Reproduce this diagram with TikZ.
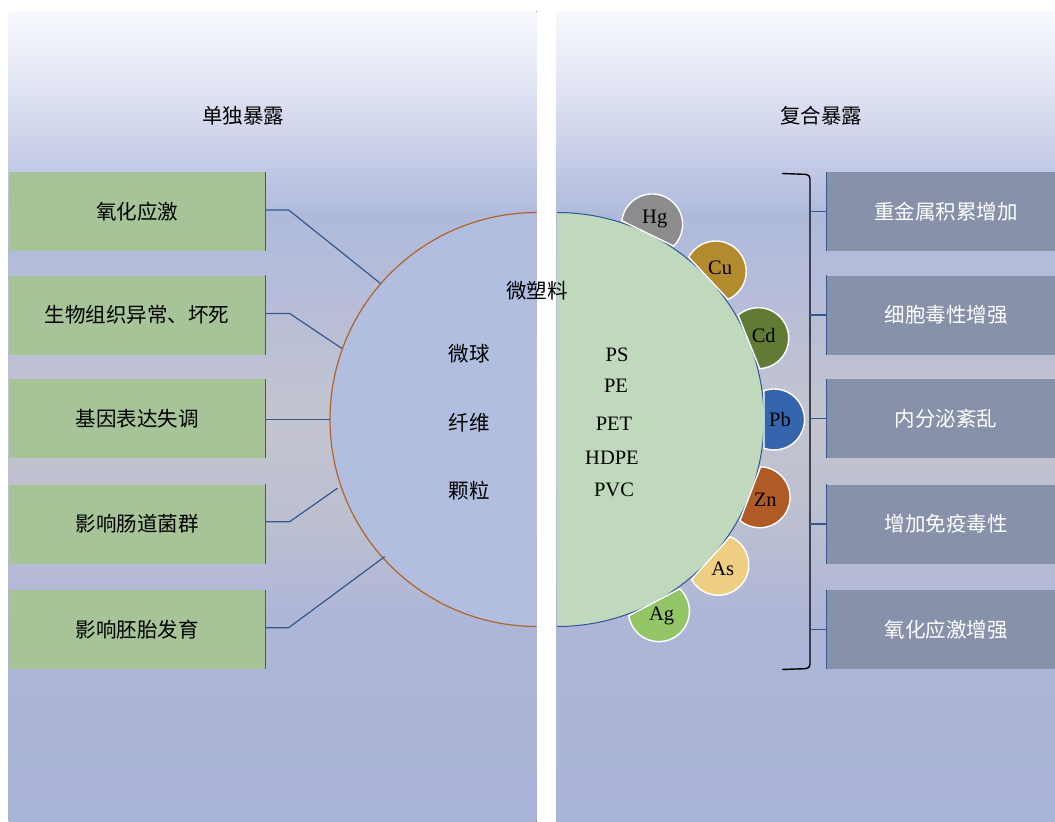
\documentclass[tikz,border=0pt]{standalone}
\usepackage{fontspec}
\setmainfont{Liberation Serif}
\newfontfamily\cjk{Noto Sans CJK SC}
\usetikzlibrary{calc}

\definecolor{bgA}{HTML}{F6F8FC}
\definecolor{bgB}{HTML}{E9ECF6}
\definecolor{bgC}{HTML}{D4D9EE}
\definecolor{bgD}{HTML}{C0C7E4}
\definecolor{bgE}{HTML}{AFBADB}
\definecolor{bgF}{HTML}{B7BDD8}
\definecolor{bgG}{HTML}{C3C4CF}
\definecolor{bgH}{HTML}{BCBFD1}
\definecolor{bgI}{HTML}{AEB6D8}
\definecolor{bgJ}{HTML}{AAB4D8}
\definecolor{lgreen}{HTML}{A6C498}
\definecolor{rgray}{HTML}{8791AA}
\definecolor{circL}{HTML}{B2BEE0}
\definecolor{circLline}{HTML}{B06428}
\definecolor{circR}{HTML}{C0D9BC}
\definecolor{circRline}{HTML}{2F5597}
\definecolor{linec}{HTML}{34588C}
\definecolor{hgc}{HTML}{8C8C8C}
\definecolor{cuc}{HTML}{B38B2E}
\definecolor{cdc}{HTML}{617A34}
\definecolor{pbc}{HTML}{3566AD}
\definecolor{znc}{HTML}{B05B26}
\definecolor{asc}{HTML}{EECE82}
\definecolor{agc}{HTML}{93C466}

\pgfdeclareverticalshading{panelshade}{100bp}{color(0bp)=(bgJ); color(25bp)=(bgJ); color(37.45bp)=(bgI); color(43.62bp)=(bgH); color(49.78bp)=(bgG); color(57.18bp)=(bgF); color(62.42bp)=(bgE); color(64.89bp)=(bgD); color(68.28bp)=(bgC); color(71.98bp)=(bgB); color(75bp)=(bgA); color(100bp)=(bgA)}

\tikzset{
  cjktext/.style={font=\cjk\fontsize{20.5}{24}\selectfont},
  lattext/.style={font=\fontsize{20.5}{24}\selectfont},
  lbox/.style={cjktext, fill=lgreen, minimum width=257pt, minimum height=79pt, inner sep=0pt, text=black},
  rbox/.style={cjktext, fill=rgray, minimum width=238pt, minimum height=79pt, inner sep=0pt, text=white},
  edgeline/.style={draw=linec, line width=1.3pt},
  conn/.style={draw=linec, line width=1.2pt},
  metal/.style={draw=white, line width=1.4pt},
  mlabel/.style={lattext, inner sep=0pt},
  bracketline/.style={draw=black, line width=1.4pt, rounded corners=4pt},
}

\begin{document}
\begin{tikzpicture}[x=1pt,y=-1pt]
\useasboundingbox (0,0) rectangle (1055,822);
\clip (0,0) rectangle (1055,822);
\fill[white] (0,0) rectangle (1055,822);

% panels
\fill[shading=panelshade] (8.5,11) rectangle (536.5,822);
\fill[shading=panelshade] (556,11) rectangle (1055,822);

% left big circle (clipped to left panel)
\coordinate (CL) at (537,419.5);
\begin{scope}
  \clip (8.5,11) rectangle (536.5,822);
  \filldraw[fill=circL, draw=circLline, line width=1.2pt] (CL) circle[radius=207pt];
\end{scope}

% right half circle
\coordinate (C) at (557,419.5);
\fill[circR] (557,212.5) arc[start angle=90, end angle=-90, radius=207pt] -- cycle;
\draw[circRline, line width=1pt] (557,212.5) arc[start angle=90, end angle=-90, radius=207pt];

% metals
\foreach \lab/\ang/\col in {Hg/64/hgc, Cu/43/cuc, Cd/22/cdc, Pb/0/pbc, Zn/-21/znc, As/-42/asc, Ag/-62/agc}{
  \path (C) ++(\ang:217pt) coordinate (o\lab);
  \filldraw[metal, fill=\col] (o\lab) ++(\ang+109.1:30.5pt) arc[start angle=\ang+109.1, delta angle=-218.2, radius=30.5pt] -- cycle;
  \node[mlabel] (m\lab) at ($(C)+(\ang:223pt)$) {\lab};
}

% titles
\node[cjktext] (t1) at (243,116) {单独暴露};
\node[cjktext] (t2) at (821,116) {复合暴露};

% circle texts
\node[cjktext] (mp) at (537,291) {微塑料};
\node[cjktext] (k1) at (469,354) {微球};
\node[cjktext] (k2) at (469,422.5) {纤维};
\node[cjktext] (k3) at (469,491) {颗粒};
\node[lattext] (p1) at (617,355) {PS};
\node[lattext] (p2) at (616,386) {PE};
\node[lattext] (p3) at (614,423.5) {PET};
\node[lattext] (p4) at (612,457.5) {HDPE};
\node[lattext] (p5) at (614,490) {PVC};

% left boxes
\node[lbox] (l1) at (137,211.5) {氧化应激};
\node[lbox] (l2) at (137,315) {生物组织异常、坏死};
\node[lbox] (l3) at (137,418.5) {基因表达失调};
\node[lbox] (l4) at (137,524) {影响肠道菌群};
\node[lbox] (l5) at (137,629.5) {影响胚胎发育};
\foreach \n in {l1,l2,l3,l4,l5}{
  \draw[edgeline] (\n.north east) -- (\n.south east);
}

% left connectors
\path (CL) ++(139:207pt) coordinate (e1);
\path (CL) ++(160:207.5pt) coordinate (e2);
\path (CL) ++(180:207pt) coordinate (e3);
\path (CL) ++(199:211pt) coordinate (e4);
\path (CL) ++(222:205pt) coordinate (e5);
\draw[conn] (l1.east) ++(0,-1.5) coordinate (s1) -- ++(23,0) coordinate (k1a) -- (e1);
\draw[conn] (l2.east) ++(0,-1.5) coordinate (s2) -- ++(24,0) coordinate (k2a) -- (e2);
\draw[conn] (l3.east) ++(0,1) coordinate (s3) -- (e3 |- s3);
\draw[conn] (l4.east) ++(0,-2.3) coordinate (s4) -- ++(24,0) coordinate (k4a) -- (e4);
\draw[conn] (l5.east) ++(0,-1.8) coordinate (s5) -- ++(23,0) coordinate (k5a) -- (e5);

% right boxes
\node[rbox] (r1) at (946,211.5) {重金属积累增加};
\node[rbox] (r2) at (946,315) {细胞毒性增强};
\node[rbox] (r3) at (946,418.5) {内分泌紊乱};
\node[rbox] (r4) at (946,524) {增加免疫毒性};
\node[rbox] (r5) at (946,629.5) {氧化应激增强};
\foreach \n in {r1,r2,r3,r4,r5}{
  \draw[edgeline] (\n.north west) -- (\n.south west);
}

% bracket
\coordinate (bt) at (782,173.5);
\coordinate (bb) at (782,669.5);
\draw[bracketline] (bt) -- (810,174.5) -- (810,668.5) -- (bb);
\foreach \n in {r1,r2,r3,r4,r5}{
  \draw[conn] (810,0 |- \n.west) -- (\n.west);
}
\end{tikzpicture}
\end{document}
